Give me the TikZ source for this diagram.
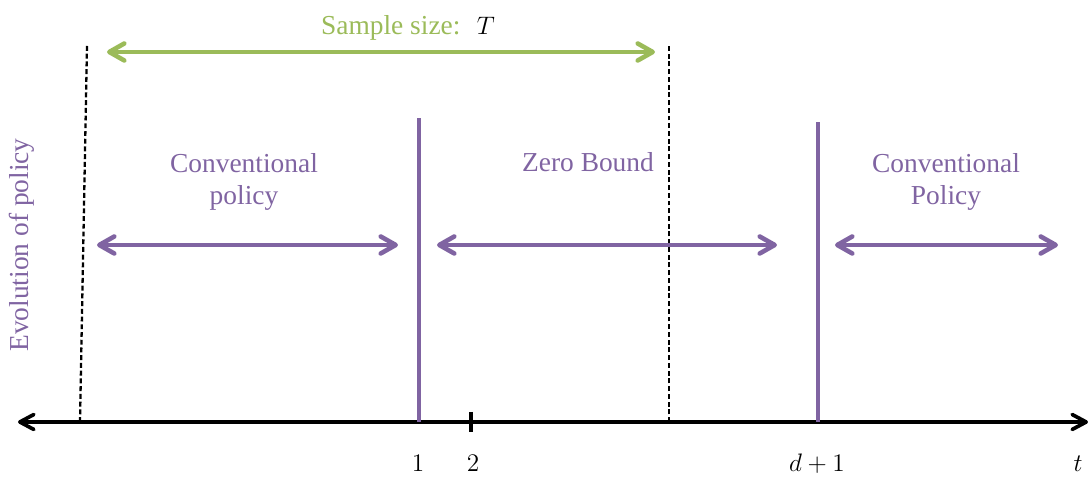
\documentclass[tikz,border=0pt]{standalone}
\usepackage[no-math]{fontspec}
\setmainfont{Liberation Serif}
\usepackage{amsmath}
\usepackage{xcolor}
\usepackage{tikz}
\usetikzlibrary{arrows.meta}
\definecolor{polpurple}{HTML}{8064A2}
\definecolor{sampgreen}{HTML}{9BBB59}
\tikzset{
 polarrow/.style={polpurple,line width=2.6pt,{Straight Barb[round,length=3mm,width=3.4mm]}-{Straight Barb[round,length=3mm,width=3.4mm]}},
 regime/.style={polpurple,line width=2pt},
 edge/.style={black,line width=1.3pt,dash pattern=on 2.8pt off 1.6pt},
 lbl/.style={font=\fontsize{15.6}{18.7}\selectfont,inner sep=0pt}
}

\begin{document}
\begin{tikzpicture}
\useasboundingbox (0,0) rectangle (21.76,9.54);
% time axis
\coordinate (tl) at (0.36,1.1);
\coordinate (tr) at (21.76,1.1);
\draw[line width=2.1pt,{Straight Barb[round,length=2.8mm,width=3mm]}-{Straight Barb[round,length=2.8mm,width=3mm]}](tl)--(tr);
\coordinate (k2a) at (9.42,1.3);
\coordinate (k2b) at (9.42,0.9);
\draw[line width=2.1pt](k2a)--(k2b);
% sample window
\coordinate (s1a) at (1.6,1.1);
\coordinate (s1b) at (1.74,8.64);
\coordinate (s2a) at (13.38,1.1);
\coordinate (s2b) at (13.38,8.64);
\draw[edge](s1a)--(s1b);
\draw[edge](s2a)--(s2b);
\coordinate (gl) at (2.14,8.5);
\coordinate (gr) at (13.1,8.5);
\draw[sampgreen,line width=2.6pt,{Straight Barb[round,length=3mm,width=3.4mm]}-{Straight Barb[round,length=3mm,width=3.4mm]}](gl)--(gr);
\node[lbl,text=sampgreen,anchor=base](size) at (8.16,8.84){Sample size:\hspace{0.6em}\textcolor{black}{$T$}};
% regime switches
\coordinate (r1a) at (8.38,1.1);
\coordinate (r1b) at (8.38,7.18);
\coordinate (r2a) at (16.36,1.1);
\coordinate (r2b) at (16.36,7.1);
\draw[regime](r1a)--(r1b);
\draw[regime](r2a)--(r2b);
% regimes
\coordinate (a1l) at (1.94,4.64);
\coordinate (a1r) at (7.96,4.64);
\coordinate (a2l) at (8.74,4.64);
\coordinate (a2r) at (15.54,4.64);
\coordinate (a3l) at (16.7,4.64);
\coordinate (a3r) at (21.16,4.64);
\draw[polarrow](a1l)--(a1r);
\draw[polarrow](a2l)--(a2r);
\draw[polarrow](a3l)--(a3r);
\node[lbl,text=polpurple,align=center,anchor=base](conv1) at (4.88,5.44){Conventional\\policy};
\node[lbl,text=polpurple,anchor=base](zlb) at (11.76,6.1){Zero Bound};
\node[lbl,text=polpurple,align=center,anchor=base](conv2) at (18.92,5.44){Conventional\\Policy};
\node[lbl,text=polpurple,rotate=90](evo) at (0.44,4.64){Evolution of policy};
% axis labels
\node[lbl,anchor=base](one) at (8.36,0.1){$1$};
\node[lbl,anchor=base](two) at (9.46,0.1){$2$};
\node[lbl,anchor=base](dp1) at (16.34,0.1){$d+1$};
\node[lbl,anchor=base](tt) at (21.56,0.1){$t$};
\end{tikzpicture}
\end{document}
